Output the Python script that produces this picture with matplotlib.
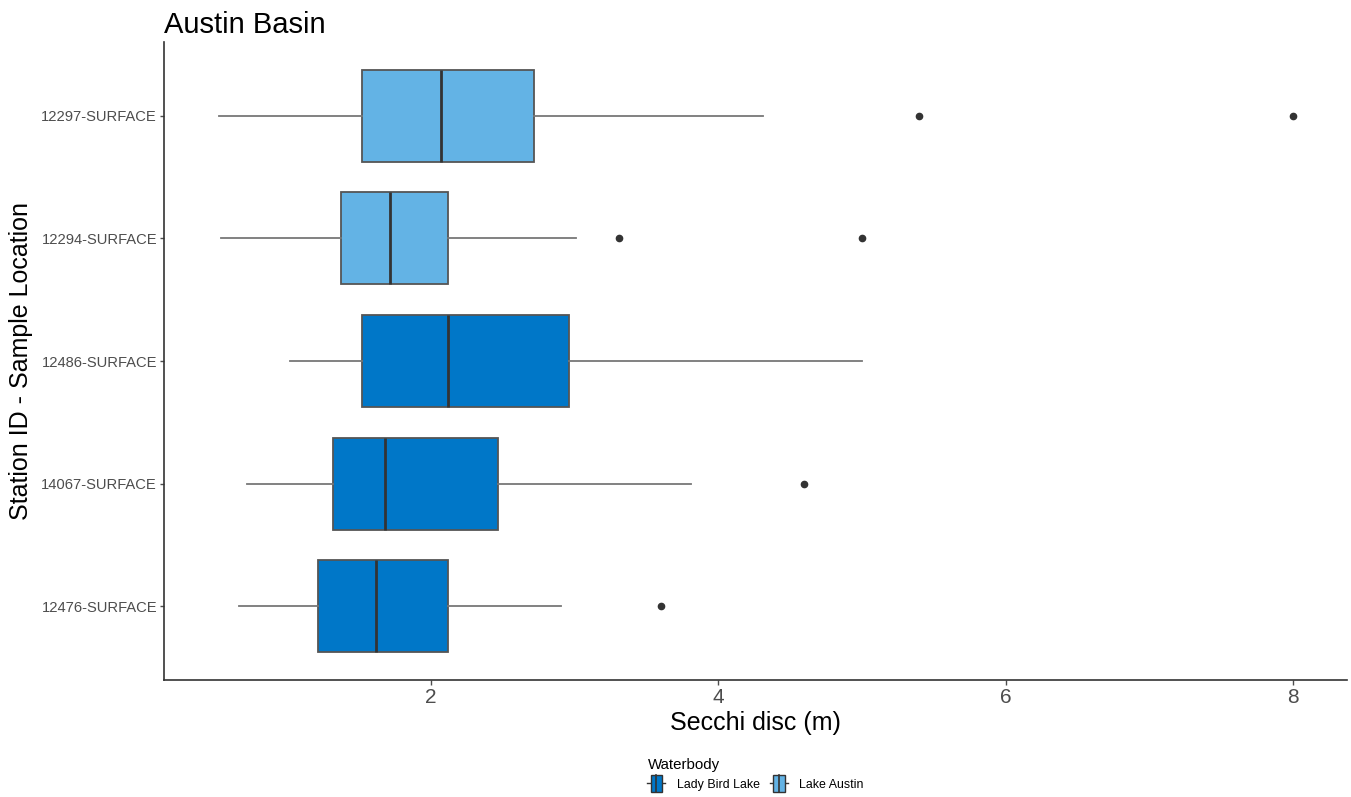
import matplotlib
matplotlib.use("Agg")
import matplotlib.pyplot as plt
from matplotlib.patches import Patch, Rectangle
from matplotlib.lines import Line2D
from matplotlib.legend_handler import HandlerBase

plt.rcParams['font.family'] = ['Liberation Sans', 'DejaVu Sans']

stations = ["12476-SURFACE", "14067-SURFACE", "12486-SURFACE", "12294-SURFACE", "12297-SURFACE"]
waterbody = ["Lady Bird Lake", "Lady Bird Lake", "Lady Bird Lake", "Lake Austin", "Lake Austin"]
whislo = [0.67, 0.72, 1.02, 0.54, 0.53]
q1 = [1.22, 1.32, 1.52, 1.38, 1.52]
med = [1.62, 1.68, 2.12, 1.72, 2.07]
q3 = [2.12, 2.47, 2.96, 2.12, 2.72]
whishi = [2.91, 3.81, 5.00, 3.01, 4.31]
fliers = [[3.60], [4.60], [], [3.31, 5.00], [5.40, 8.00]]

colors = {"Lady Bird Lake": "#0077C8", "Lake Austin": "#63B3E5"}
legend_order = ["Lady Bird Lake", "Lake Austin"]

fig = plt.figure(figsize=(13.51, 7.97), dpi=100)
ax = fig.add_axes([0.1214, 0.1468, 0.8756, 0.8002])

stats = []
for i in range(len(stations)):
    stats.append(dict(whislo=whislo[i], q1=q1[i], med=med[i], q3=q3[i],
                      whishi=whishi[i], fliers=fliers[i], label=stations[i]))

bp = ax.bxp(stats, positions=range(1, len(stations) + 1), vert=False,
            widths=0.75, patch_artist=True, showcaps=False,
            boxprops=dict(edgecolor="#555555", linewidth=1.3),
            medianprops=dict(color="#333333", linewidth=2.0),
            whiskerprops=dict(color="#777777", linewidth=1.3),
            flierprops=dict(marker="o", markerfacecolor="#333333",
                            markeredgecolor="#333333", markersize=4.5))
for patch, wb in zip(bp["boxes"], waterbody):
    patch.set_facecolor(colors[wb])
    patch.set_zorder(2)
for m in bp["medians"]:
    m.set_zorder(3)

ax.set_xlim(0.146, 8.374)
ax.set_ylim(0.4, 5.6)
ax.set_xticks([2, 4, 6, 8])
ax.set_xticklabels(["2", "4", "6", "8"])
ax.set_yticks(range(1, len(stations) + 1))
ax.set_yticklabels(stations)
ax.tick_params(axis="x", labelsize=15, colors="#4D4D4D", length=3.5, width=1, pad=2)
ax.tick_params(axis="y", labelsize=10.6, colors="#4D4D4D", length=3, width=1, pad=2)
for s in ["top", "right"]:
    ax.spines[s].set_visible(False)
for s in ["left", "bottom"]:
    ax.spines[s].set_color("#333333")
    ax.spines[s].set_linewidth(1.2)

ax.set_xlabel("Secchi disc (m)", fontsize=18, color="black", labelpad=3)
ax.set_ylabel("Station ID - Sample Location", fontsize=18, color="black", labelpad=6)
ax.set_title("Austin Basin", fontsize=21, loc="left", x=0.0, pad=7)


class BoxHandler(HandlerBase):
    def create_artists(self, legend, orig_handle, xdescent, ydescent, width, height, fontsize, trans):
        fc = orig_handle.get_facecolor()
        bw = width * 0.66
        by = -ydescent - height * 0.3
        bh = height * 1.6
        x0 = -xdescent
        cy = by + bh / 2
        rect = Rectangle((x0 + (width - bw) / 2, by), bw, bh, facecolor=fc,
                         edgecolor="#333333", linewidth=1.0, transform=trans)
        wl = Line2D([x0, x0 + (width - bw) / 2], [cy, cy], color="#333333", lw=1.0, transform=trans)
        wr = Line2D([x0 + (width + bw) / 2, x0 + width], [cy, cy], color="#333333", lw=1.0, transform=trans)
        md = Line2D([x0 + width / 2, x0 + width / 2], [by, by + bh], color="#333333", lw=1.2, transform=trans)
        return [wl, wr, rect, md]


handles = [Patch(facecolor=colors[k], label=k) for k in legend_order]
leg = fig.legend(handles=handles, title="Waterbody", loc="lower center",
                 bbox_to_anchor=(0.1214 + 0.8756 / 2, -0.006), ncol=2, frameon=False,
                 fontsize=8.9, title_fontsize=10.8, handlelength=1.45, handleheight=1.0,
                 columnspacing=0.85, handletextpad=0.9,
                 handler_map={Patch: BoxHandler()})
leg._legend_box.align = "left"

fig.savefig("out.png", dpi=100)
